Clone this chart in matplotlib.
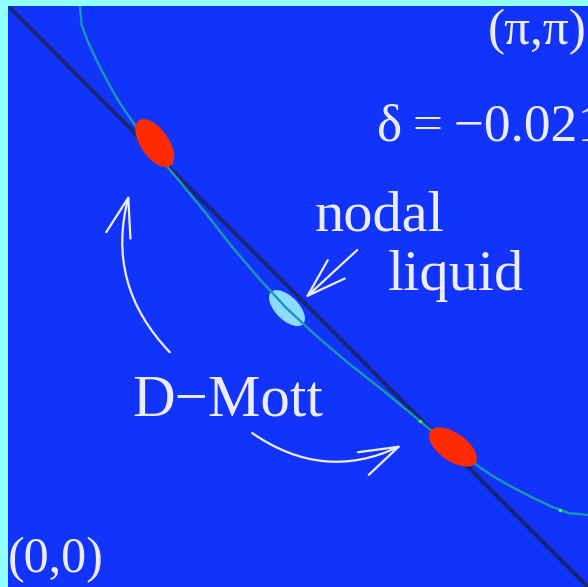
import matplotlib
matplotlib.use("Agg")
import matplotlib.pyplot as plt
from matplotlib.patches import Ellipse, FancyArrowPatch

# momentum space in units of pi: kx, ky in [0, 1]
fermi_kx = [0.124, 0.127, 0.138, 0.154, 0.171, 0.189, 0.209, 0.230, 0.252, 0.274,
            0.297, 0.342, 0.386, 0.432, 0.480,
            0.532, 0.586, 0.642, 0.697, 0.724, 0.752, 0.780, 0.809, 0.839, 0.871,
            0.904, 0.938, 0.967, 1.000]
fermi_ky = [1.000, 0.967, 0.938, 0.904, 0.871, 0.839, 0.809, 0.780, 0.752, 0.724,
            0.697, 0.642, 0.586, 0.532, 0.480,
            0.432, 0.386, 0.342, 0.297, 0.274, 0.252, 0.230, 0.209, 0.189, 0.171,
            0.154, 0.138, 0.127, 0.124]

# markers on the contour
dot_kx = [0.710, 0.952]
dot_ky = [0.286, 0.133]

# hot spots (D-Mott) and nodal point: centre, width, height, angle
hot_centres = [(0.253, 0.764), (0.767, 0.241)]
hot_angles = [-55, -35]
hot_size = (0.095, 0.048)
node_centre = (0.481, 0.480)
node_size = (0.078, 0.040)
node_angle = -45

BG = "#1234fa"
FRAME = "#90ffff"
INK = "#ececff"

plt.rcParams["font.family"] = ["Liberation Serif", "DejaVu Serif"]

fig = plt.figure(figsize=(5.88, 5.87), dpi=100, facecolor=FRAME)
ax = fig.add_axes([8 / 588, 0, 580 / 588, 581 / 587])
ax.set_facecolor(BG)
ax.set_xlim(0, 1)
ax.set_ylim(0, 1)
ax.set_xticks([])
ax.set_yticks([])
for s in ax.spines.values():
    s.set_visible(False)

# antiferromagnetic zone boundary kx + ky = pi
ax.plot([0, 1], [1, 0], color="#16267a", lw=3, zorder=1, solid_capstyle="butt")

ax.add_patch(Ellipse(node_centre, node_size[0], node_size[1], angle=node_angle,
                     facecolor="#8cdcff", edgecolor="none", zorder=2))

ax.plot(fermi_kx, fermi_ky, color="#1898b0", lw=1.7, zorder=3)
ax.plot(dot_kx, dot_ky, "o", color="#30ff40", ms=2.5, mec="none", zorder=3)

for c, a in zip(hot_centres, hot_angles):
    ax.add_patch(Ellipse(c, hot_size[0], hot_size[1], angle=a,
                         facecolor="#ff2a00", edgecolor="none", zorder=4))

# arrows pointing at the hot spots and the node
arrow_kw = dict(arrowstyle="->,head_length=1.4,head_width=0.45", color=INK,
                lw=1.6, mutation_scale=20, zorder=5, shrinkA=0, shrinkB=0)
ax.add_patch(FancyArrowPatch((0.279, 0.404), (0.209, 0.676),
                             connectionstyle="arc3,rad=-0.28", **arrow_kw))
ax.add_patch(FancyArrowPatch((0.421, 0.265), (0.679, 0.244),
                             connectionstyle="arc3,rad=0.29", **arrow_kw))
ax.add_patch(FancyArrowPatch((0.602, 0.580), (0.512, 0.497), **arrow_kw))

txt = dict(color=INK, va="baseline", zorder=6)
ax.text(0.997, 0.934, "(π,π)", ha="right", fontsize=37, **txt)
ax.text(0.636, 0.769, "δ\u2009=\u2009−0.021", ha="left", fontsize=38.5,
        clip_on=True, **txt)
ax.text(0.529, 0.614, "nodal", ha="left", fontsize=42, **txt)
ax.text(0.655, 0.511, "liquid", ha="left", fontsize=42, **txt)
ax.text(0.214, 0.296, "D−Mott", ha="left", fontsize=42.5, **txt)
ax.text(0.000, 0.026, "(0,0)", ha="left", fontsize=36, **txt)

fig.savefig("out.png", dpi=100, facecolor=FRAME)
